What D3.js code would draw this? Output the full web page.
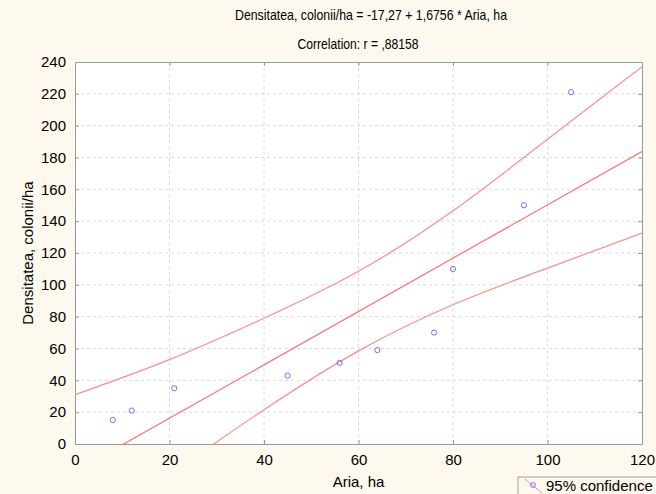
<!DOCTYPE html>
<html>
<head>
<meta charset="utf-8">
<script src="https://cdn.jsdelivr.net/npm/d3@7"></script>
<style>
  body { margin: 0; background: #fdf9ee; }
  svg { display: block; font-family: "Liberation Sans", Arial, sans-serif; }
</style>
</head>
<body>
<script>
const svgWidth = 656
const svgHeight = 494

const margin = { top: 62, right: 14, bottom: 50, left: 75 }
const chartWidth = svgWidth - margin.left - margin.right
const chartHeight = svgHeight - margin.top - margin.bottom

// scatter data (Aria, ha / Densitatea, colonii/ha)
const aria = [8, 12, 21, 45, 56, 64, 76, 80, 95, 105]
const densitatea = [15, 21, 35, 43, 51, 59, 70, 110, 150, 221]

// fit: -17.27 + 1.6756 * x
const intercept = -17.27
const slope = 1.6756

// 95% confidence band
const bandX = [0, 20, 40, 60, 80, 100, 120]
const bandUpper = [31, 53, 79, 108.5, 146.5, 191.5, 237]
const bandLower = [-66, -20, 21.5, 58.5, 87.5, 110.5, 132.5]

const xTicks = [0, 20, 40, 60, 80, 100, 120]
const yTicks = [0, 20, 40, 60, 80, 100, 120, 140, 160, 180, 200, 220, 240]

const svg = d3.select("body").append("svg")
  .attr("width", svgWidth)
  .attr("height", svgHeight)

svg.append("rect")
  .attr("width", svgWidth).attr("height", svgHeight)
  .attr("fill", "#fdf9ee")

const x = d3.scaleLinear().domain([0, 120]).range([0, chartWidth])
const y = d3.scaleLinear().domain([0, 240]).range([chartHeight, 0])

const chartG = svg.append("g")
  .attr("transform", `translate(${margin.left}, ${margin.top})`)

chartG.append("rect")
  .attr("width", chartWidth).attr("height", chartHeight)
  .attr("fill", "#fff")

svg.append("clipPath").attr("id", "clip")
  .append("rect").attr("width", chartWidth).attr("height", chartHeight)

// grid
chartG.append("g").selectAll("line")
  .data(xTicks.slice(1, -1))
  .join("line")
  .attr("x1", d => x(d)).attr("x2", d => x(d))
  .attr("y1", 0).attr("y2", chartHeight)
  .attr("stroke", "#dcdcdc").attr("stroke-dasharray", "3,3")

chartG.append("g").selectAll("line")
  .data(yTicks.slice(1, -1))
  .join("line")
  .attr("y1", d => y(d)).attr("y2", d => y(d))
  .attr("x1", 0).attr("x2", chartWidth)
  .attr("stroke", "#dcdcdc").attr("stroke-dasharray", "3,3")

// axes with inward ticks
const axisColor = "#9a9a9a"
const bottomAxis = chartG.append("g")
  .attr("transform", `translate(0, ${chartHeight})`)
  .call(d3.axisBottom(x).tickValues(xTicks).tickSizeInner(-4).tickSizeOuter(0).tickPadding(10))
const leftAxis = chartG.append("g")
  .call(d3.axisLeft(y).tickValues(yTicks).tickSizeInner(-4).tickSizeOuter(0).tickPadding(9))
const topAxis = chartG.append("g")
  .call(d3.axisTop(x).tickValues(xTicks).tickSizeInner(-4).tickSizeOuter(0).tickFormat(""))
const rightAxis = chartG.append("g")
  .attr("transform", `translate(${chartWidth}, 0)`)
  .call(d3.axisRight(y).tickValues(yTicks).tickSizeInner(-4).tickSizeOuter(0).tickFormat(""))

for (const a of [bottomAxis, leftAxis, topAxis, rightAxis]) {
  a.select(".domain").attr("stroke", axisColor)
  a.selectAll(".tick line").attr("stroke", axisColor)
  a.selectAll("text").attr("fill", "#000").attr("font-size", 15)
    .attr("font-family", "Liberation Sans, Arial, sans-serif")
}

// lines
const plotG = chartG.append("g").attr("clip-path", "url(#clip)")

const band = d3.line()
  .x(d => x(d[0]))
  .y(d => y(d[1]))
  .curve(d3.curveNatural)

plotG.append("path")
  .attr("d", band(bandX.map((v, i) => [v, bandUpper[i]])))
  .attr("fill", "none").attr("stroke", "#ff8c8c").attr("stroke-width", 1.2)
plotG.append("path")
  .attr("d", band(bandX.map((v, i) => [v, bandLower[i]])))
  .attr("fill", "none").attr("stroke", "#ff8c8c").attr("stroke-width", 1.2)

plotG.append("line")
  .attr("x1", x(0)).attr("y1", y(intercept))
  .attr("x2", x(120)).attr("y2", y(intercept + slope * 120))
  .attr("stroke", "#ff7070").attr("stroke-width", 1.2)

plotG.selectAll("circle")
  .data(aria.map((v, i) => [v, densitatea[i]]))
  .join("circle")
  .attr("cx", d => x(d[0]))
  .attr("cy", d => y(d[1]))
  .attr("r", 2.6)
  .attr("fill", "none")
  .attr("stroke", "#6f6fff")
  .attr("stroke-width", 1)

// titles (narrow font in the original, so squeeze to width)
svg.append("text")
  .attr("x", 371).attr("y", 20)
  .attr("text-anchor", "middle").attr("font-size", 14.5)
  .attr("textLength", 272).attr("lengthAdjust", "spacingAndGlyphs")
  .text("Densitatea, colonii/ha = -17,27 + 1,6756 * Aria, ha")
svg.append("text")
  .attr("x", 358).attr("y", 49)
  .attr("text-anchor", "middle").attr("font-size", 14.5)
  .attr("textLength", 121).attr("lengthAdjust", "spacingAndGlyphs")
  .text("Correlation: r = ,88158")

const cx = margin.left + chartWidth / 2
svg.append("text")
  .attr("x", cx).attr("y", 487)
  .attr("text-anchor", "middle").attr("font-size", 15)
  .text("Aria, ha")

svg.append("text")
  .attr("transform", `translate(33, ${margin.top + chartHeight / 2}) rotate(-90)`)
  .attr("text-anchor", "middle").attr("font-size", 15)
  .text("Densitatea, colonii/ha")

// legend (cut off at the corner)
const legend = svg.append("g").attr("transform", "translate(518, 477)")
legend.append("rect")
  .attr("width", 150).attr("height", 30)
  .attr("fill", "#fdf9ee").attr("stroke", "#a0a0a0")
legend.append("line")
  .attr("x1", 7).attr("y1", 2).attr("x2", 24).attr("y2", 16)
  .attr("stroke", "#ff8c8c")
legend.append("circle")
  .attr("cx", 15).attr("cy", 8).attr("r", 2.4)
  .attr("fill", "none").attr("stroke", "#6f6fff")
legend.append("text")
  .attr("x", 28).attr("y", 14)
  .attr("font-size", 15)
  .text("95% confidence")
</script>
</body>
</html>
